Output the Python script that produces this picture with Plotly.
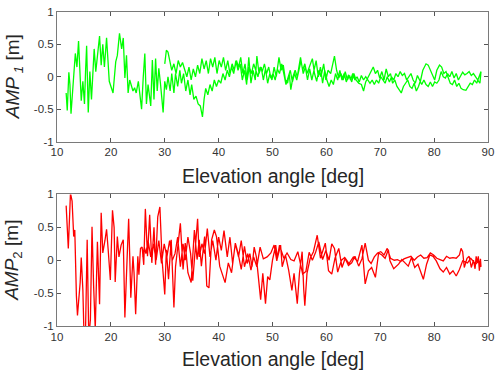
import plotly.graph_objects as go

# ---------------- data ----------------
# Top panel (AMP_1): ascending pass then descending pass (turning points)
elev_1_up = [11.7, 11.9, 12.2, 12.4, 12.6, 12.9, 13.2, 13.4, 13.7, 14.0, 14.2, 14.5, 14.8, 15.1, 15.3, 15.5,
             15.8, 16.1, 16.4, 16.9, 17.2, 17.9, 18.2, 18.5, 18.8, 19.2, 19.7, 20.4, 20.9, 21.2, 21.6, 22.0,
             22.3, 22.6, 22.9, 23.2, 23.5, 23.8, 24.1, 24.4, 24.7, 25.1, 25.7, 26.0, 26.3, 26.6, 26.9, 27.4,
             27.7, 28.0, 28.3, 28.6, 28.9, 29.2, 29.7, 30.0,
             30.3, 30.6, 31.0, 31.3, 31.7, 32.0, 32.4, 32.8, 33.1, 33.5, 33.9, 34.3, 34.7, 35.0, 35.4, 35.8,
             36.2, 36.6, 37.0, 37.3, 37.6, 38.0, 38.4, 38.8, 39.2, 39.6, 40.0, 40.4, 40.8, 41.2, 41.6, 42.0,
             42.4, 42.8, 43.2, 43.6, 44.0, 44.4, 44.8, 45.2, 45.6, 46.0, 46.4, 46.8, 47.1, 47.5, 47.9, 48.3,
             48.7, 49.1, 49.5, 49.9, 50.3, 50.7, 51.2, 51.6, 52.0, 52.4, 52.8, 53.1, 53.4, 53.8, 54.2, 54.6,
             55.2, 55.6, 56.0, 56.4, 56.8, 57.4, 57.8, 58.2, 58.6, 59.0, 59.5, 59.9, 60.3, 60.8, 61.5, 61.9,
             62.3, 62.7, 63.1, 63.5, 63.9, 64.3, 64.7, 65.1, 65.5, 66.0, 66.5, 66.9, 67.3, 67.7, 68.1, 68.7,
             69.1, 69.5, 69.9, 70.3, 70.7, 71.1, 71.5, 71.9, 72.3, 72.7, 73.1, 73.5, 73.9, 74.3, 74.7, 75.1,
             75.5, 75.9, 76.3, 76.7, 77.1, 77.5, 77.9, 78.5, 78.9, 79.3, 79.7, 80.1, 80.5, 81.0, 81.4, 81.8,
             82.2, 82.6, 83.0, 83.4, 83.8, 84.2, 84.6, 85.0, 85.4, 85.9, 86.3, 86.7, 87.1, 87.5, 87.9, 88.3,
             88.7]
amp_1_up = [-0.25, -0.52, 0.07, -0.12, -0.57, -0.22, 0.13, 0.36, 0.15, 0.55, 0.18, -0.37, -0.07, -0.42, 0.08, 0.48,
            -0.55, 0.08, -0.35, 0.43, 0.08, 0.63, 0.18, 0.50, 0.15, 0.60, -0.07, -0.25, 0.23, 0.33, 0.67, 0.43,
            0.60, -0.02, 0.33, -0.25, -0.05, -0.12, -0.22, -0.17, -0.25, -0.07, -0.50, -0.02, 0.36, -0.42, -0.12, -0.45,
            0.26, -0.35, 0.28, -0.22, 0.13, -0.10, -0.55, -0.07,
            -0.20, 0.00, -0.22, 0.05, -0.25, 0.05, -0.15, 0.10, -0.10, 0.05, -0.22, -0.05, -0.28, -0.12, -0.35, -0.30,
            -0.42, -0.45, -0.62, -0.35, -0.18, -0.28, -0.12, -0.22, -0.05, -0.15, -0.05, -0.10, 0.05, -0.05, 0.10, 0.00,
            0.15, 0.05, 0.25, 0.10, 0.20, -0.05, 0.10, -0.12, 0.30, -0.10, 0.10, -0.05, 0.32, 0.05, 0.15, -0.05,
            0.12, -0.10, 0.05, -0.05, 0.15, 0.00, 0.30, 0.10, 0.18, -0.05, -0.10, 0.05, -0.20, 0.00, 0.10, 0.00,
            0.30, 0.10, 0.20, 0.05, 0.15, 0.28, 0.05, -0.07, 0.10, 0.00, 0.20, -0.05, 0.10, 0.05, 0.32, 0.10,
            -0.02, 0.05, -0.05, 0.08, -0.05, 0.02, -0.08, 0.05, -0.05, -0.10, -0.12, -0.22, -0.08, 0.00, 0.05, 0.15,
            0.05, 0.10, -0.02, 0.08, -0.05, 0.12, 0.00, 0.05, -0.10, -0.05, -0.15, -0.20, -0.25, -0.15, -0.10, -0.05,
            -0.15, -0.18, -0.10, -0.22, -0.15, -0.05, 0.10, 0.20, 0.18, 0.10, 0.00, -0.05, 0.10, 0.18, 0.15, 0.05,
            0.08, 0.00, -0.10, -0.12, -0.05, -0.15, -0.10, -0.18, -0.20, -0.21, -0.15, -0.10, -0.12, -0.05, -0.10, -0.02,
            0.08]

elev_1_down = [88.5, 88.1, 87.7, 87.3, 86.9, 86.5, 86.1, 85.7, 85.3, 84.9, 84.5, 84.1, 83.7, 83.3, 82.9, 82.5,
               82.1, 81.7, 81.3, 80.9, 80.5, 80.1, 79.7, 79.3, 78.9, 78.5, 78.1, 77.7, 77.3, 76.9, 76.5, 76.1,
               75.7, 75.3, 74.9, 74.5, 74.1, 73.7, 73.3, 72.9, 72.5, 72.1, 71.7, 71.3, 70.9, 70.5, 70.1, 69.7,
               69.3, 68.9, 68.5, 68.1, 67.7, 67.3, 66.9, 66.5, 66.1, 65.7, 65.3, 64.9, 64.5, 64.1, 63.7, 63.3,
               62.9, 62.5, 62.1, 61.7, 61.3, 60.9, 60.5, 60.1, 59.7, 59.3, 58.9, 58.5, 58.1, 57.7, 57.3, 56.9,
               56.5, 56.1, 55.7, 55.3, 54.9, 54.5, 54.1, 53.7, 53.3, 52.9, 52.5, 52.1, 51.7, 51.3, 50.9, 50.5,
               50.1, 49.7, 49.3, 48.9, 48.5, 48.1, 47.7, 47.3, 46.9, 46.5, 46.1, 45.7, 45.3, 44.9, 44.5, 44.1,
               43.7, 43.3, 42.9, 42.5, 42.1, 41.7, 41.3, 40.9, 40.5, 40.1, 39.7, 39.3, 38.9, 38.5, 38.1, 37.7,
               37.3, 36.9, 36.5, 36.1, 35.7, 35.3, 34.9, 34.5, 34.1, 33.7, 33.3, 32.9, 32.5, 32.1, 31.7, 31.3,
               30.9, 30.6, 30.3, 30.0]
amp_1_down = [-0.10, -0.05, 0.00, 0.05, 0.02, 0.08, 0.05, 0.03, 0.07, 0.02, -0.05, 0.05, -0.02, 0.08, 0.00, 0.05,
              -0.02, 0.00, 0.08, -0.05, -0.10, -0.08, -0.15, -0.08, -0.15, -0.12, -0.05, -0.12, -0.05, 0.02, -0.10, -0.05,
              0.05, 0.00, -0.05, 0.05, 0.02, 0.08, 0.00, 0.05, -0.05, 0.00, -0.08, 0.00, -0.10, -0.05, 0.00, -0.10,
              -0.05, -0.12, -0.05, -0.10, -0.05, 0.00, -0.05, 0.02, -0.08, 0.00, -0.05, 0.05, -0.05, 0.03, -0.08, 0.05,
              -0.05, 0.10, -0.05, 0.05, -0.12, -0.05, -0.15, -0.05, 0.10, -0.10, 0.15, 0.00, 0.25, 0.10, -0.05, 0.12,
              -0.05, 0.15, 0.05, 0.25, 0.10, -0.05, 0.05, -0.08, 0.10, 0.00, -0.12, 0.05, 0.20, 0.05, 0.12, -0.05,
              0.05, -0.02, 0.15, 0.05, 0.20, 0.08, 0.15, 0.00, 0.12, 0.20, 0.05, 0.15, -0.05, 0.20, 0.05, 0.30,
              0.15, 0.25, 0.10, 0.20, 0.05, 0.25, 0.10, 0.30, 0.15, 0.25, 0.05, 0.30, 0.15, 0.28, 0.05, 0.25,
              0.12, 0.28, 0.05, 0.18, 0.00, 0.12, -0.05, 0.15, 0.00, 0.12, 0.22, 0.15, 0.25, 0.05, 0.20, 0.10,
              0.25, 0.38, 0.41, 0.20]

# Bottom panel (AMP_2)
elev_2_up = [11.7, 12.1, 12.5, 12.8, 13.1, 13.3, 13.6, 13.8, 14.0, 14.3, 14.5, 14.8, 15.0, 15.3, 15.6, 15.9,
             16.2, 16.5, 16.8, 17.1, 17.5, 17.9, 18.2, 18.5, 18.9, 19.2, 19.5, 19.9, 20.3, 20.6, 20.8, 21.2,
             21.5, 21.9, 22.3, 22.6, 23.0, 23.3, 23.5, 23.7, 24.1, 24.3, 24.6, 25.0, 25.2, 25.5, 25.8, 26.1,
             26.4, 26.8, 27.2, 27.6, 28.0, 28.3, 28.7, 29.1, 29.5, 30.0, 30.3, 30.7, 31.2, 31.7, 32.0, 32.4,
             32.9, 33.4, 33.8, 34.3, 34.9, 35.5, 36.0, 36.4, 36.8, 37.4, 37.8, 38.2, 38.7, 39.2, 39.6, 40.2,
             41.2, 41.8, 42.4, 43.1, 43.6, 44.2, 44.8, 45.3, 45.8, 46.2, 46.6, 47.0, 47.4, 47.8, 48.2, 48.7,
             49.1, 49.5, 50.0, 50.6, 50.9, 51.5, 51.8, 52.4, 53.0, 53.6, 54.0, 54.6, 55.0, 55.5, 55.8, 56.0,
             56.4, 57.0, 57.6, 58.3, 58.9, 59.8, 60.4, 61.0, 61.6, 62.3, 62.9, 63.5, 64.2, 65.0, 65.8, 66.6,
             67.2, 67.8, 68.4, 69.1, 69.7, 70.3, 70.9, 71.5, 71.8, 72.5, 73.4, 74.0, 74.6, 75.2, 75.8, 76.4,
             77.0, 78.0, 78.6, 79.2, 79.8, 80.4, 81.1, 81.7, 82.3, 82.9, 83.5, 84.1, 84.7, 85.3, 86.2, 86.8,
             87.7, 88.3, 88.7]
amp_2_up = [0.83, 0.18, 1.02, 0.90, 0.36, 0.46, -0.54, -0.84, -0.64, -0.34, 0.04, -0.45, -1.10, -1.05, 0.31, -1.20,
            -0.90, 0.51, -0.40, -1.05, 0.28, -0.67, 0.72, 0.11, 0.30, 0.47, 0.16, -0.30, 0.76, 0.50, -0.33, 0.36,
            0.05, 0.23, 0.31, -0.87, 0.00, 0.63, 0.06, -0.57, 0.06, -0.19, -0.82, 0.06, -0.22, 0.18, 0.20, -0.07,
            0.78, 0.06, 0.69, -0.04, 0.50, -0.07, 0.66, 0.81, 0.01, -0.52, 0.16, -0.29, 0.31, -0.72, -0.10, 0.20,
            0.56, -0.14, 0.26, -0.19, -0.34, 0.46, 0.01, 0.31, -0.09, 0.36, -0.39, -0.42, 0.31, 0.46, 0.36, -0.09,
            -0.34, -0.04, -0.19, 0.26, 0.11, -0.14, 0.21, -0.05, 0.10, -0.10, 0.20, 0.05, -0.30, -0.60, -0.20, -0.66,
            -0.25, -0.30, 0.00, 0.23, 0.03, 0.23, -0.10, 0.08, -0.15, -0.46, -0.20, -0.66, -0.20, 0.13, -0.45, -0.69,
            -0.20, 0.03, 0.13, 0.38, 0.03, 0.26, -0.16, -0.21, 0.03, 0.18, -0.11, 0.03, -0.05, 0.05, -0.02, 0.23,
            -0.36, -0.16, -0.11, -0.26, 0.11, 0.08, 0.03, 0.16, -0.01, -0.13, -0.06, 0.01, -0.04, -0.09, 0.04, -0.11,
            -0.06, -0.29, -0.06, 0.08, 0.06, -0.01, -0.13, -0.18, -0.11, -0.21, -0.16, -0.24, -0.14, -0.01, -0.04, 0.03,
            -0.06, -0.01, -0.10]

elev_2_down = [88.6, 88.4, 88.2, 88.0, 87.8, 87.6, 87.3, 86.9, 86.5, 86.1, 85.6, 85.3, 85.0, 84.7, 84.1, 83.5,
               82.9, 82.3, 81.7, 81.1, 80.5, 79.9, 79.3, 78.7, 78.1, 77.5, 76.9, 76.3, 75.7, 75.0, 74.4, 73.8,
               73.2, 72.6, 71.9, 71.3, 70.7, 70.1, 69.5, 68.9, 68.3, 67.8, 67.2, 66.6, 66.0, 65.3, 64.7, 64.1,
               63.4, 62.8, 62.1, 61.5, 61.0, 60.5, 59.9, 59.3, 58.6, 58.0, 57.4, 56.8, 56.2, 55.6, 54.7, 54.0,
               53.4, 52.7, 52.1, 51.3, 50.8, 50.3, 49.7, 49.0, 48.3, 47.7, 47.1, 46.5, 46.0, 45.4, 44.8, 44.2,
               43.7, 43.1, 42.6, 42.1, 41.6, 41.0, 40.5, 40.0, 39.5, 38.9, 38.4, 37.9, 37.4, 36.9, 36.4, 36.1,
               35.7, 35.2, 34.8, 34.3, 33.8, 33.4, 32.9, 32.4, 31.9, 31.4, 30.9, 30.4, 29.9, 29.4, 28.9, 28.4,
               27.9, 27.4, 26.9, 26.5, 26.2, 25.9]
amp_2_down = [0.02, -0.16, 0.06, -0.04, 0.06, -0.13, 0.00, -0.11, 0.06, 0.03, -0.11, 0.13, 0.18, 0.08, 0.03, 0.04,
              0.03, 0.06, -0.01, 0.01, 0.03, 0.08, 0.11, 0.04, 0.03, 0.08, 0.05, 0.00, 0.06, 0.04, 0.02, -0.02,
              0.01, 0.00, 0.03, 0.18, 0.08, 0.13, 0.11, 0.05, -0.05, 0.00, 0.26, 0.02, -0.09, 0.06, -0.04, -0.08,
              0.04, 0.00, -0.18, 0.18, 0.25, 0.00, 0.15, 0.01, 0.28, 0.12, 0.00, 0.12, -0.17, -0.21, 0.13, -0.01,
              0.01, 0.11, 0.03, 0.23, -0.01, 0.23, 0.11, 0.05, 0.02, 0.20, -0.10, 0.05, -0.15, 0.10, -0.10, 0.30,
              0.05, 0.25, -0.05, 0.35, 0.05, 0.45, 0.15, 0.35, 0.00, 0.30, 0.05, 0.48, 0.10, 0.25, 0.05, 0.63,
              0.15, -0.31, 0.10, 0.35, 0.00, 0.25, -0.10, 0.35, 0.10, 0.00, 0.30, 0.05, 0.25, -0.05, 0.30, 0.00,
              0.25, 0.05, 0.30, 0.10, 0.20, 0.05]

x_ticks = [10, 20, 30, 40, 50, 60, 70, 80, 90]
y_ticks = [-1, -0.5, 0, 0.5, 1]
y_tick_text = ["-1", "-0.5", "0", "0.5", "1"]

# ---------------- figure ----------------
fig = go.Figure()
fig.add_trace(go.Scatter(x=elev_1_up + elev_1_down, y=amp_1_up + amp_1_down, mode="lines",
                         line=dict(color="#00ff00", width=1.3), xaxis="x", yaxis="y", showlegend=False))
fig.add_trace(go.Scatter(x=elev_2_up + elev_2_down, y=amp_2_up + amp_2_down, mode="lines",
                         line=dict(color="#ff0000", width=1.3), xaxis="x2", yaxis="y2", showlegend=False))

axis_font = dict(family="Liberation Sans, Arial, sans-serif", size=11.5, color="#333333")
common_x = dict(range=[10, 90], tickvals=x_ticks, ticks="inside", ticklen=4, tickcolor="#555",
                showline=True, linecolor="#7a7a7a", linewidth=1, mirror="ticks", showgrid=False,
                zeroline=False, tickfont=axis_font, domain=[0, 1])
common_y = dict(range=[-1, 1], tickvals=y_ticks, ticktext=y_tick_text, ticks="inside", ticklen=4,
                tickcolor="#555", showline=True, linecolor="#7a7a7a", linewidth=1, mirror="ticks",
                showgrid=False, zeroline=False, tickfont=axis_font)

fig.update_layout(
    width=500, height=372,
    margin=dict(l=57, r=8, t=6, b=46),
    paper_bgcolor="white", plot_bgcolor="white",
    xaxis=dict(anchor="y", **common_x),
    yaxis=dict(domain=[0.5875, 1.0], anchor="x", **common_y),
    xaxis2=dict(anchor="y2", **common_x),
    yaxis2=dict(domain=[0.0, 0.419], anchor="x2", **common_y),
)

title_font = dict(family="Liberation Sans, Arial, sans-serif", size=19.5, color="#262626")
ylab_font = dict(family="Liberation Sans, Arial, sans-serif", size=19, color="#262626")
fig.add_annotation(text="Elevation angle [deg]", xref="paper", yref="paper", x=0.501, y=0.478,
                   xanchor="center", yanchor="middle", showarrow=False, font=title_font)
fig.add_annotation(text="Elevation angle [deg]", xref="paper", yref="paper", x=0.501, y=-0.106,
                   xanchor="center", yanchor="middle", showarrow=False, font=title_font)
fig.add_annotation(text="<i>AMP</i><sub><i> 1</i></sub> [m]", xref="paper", yref="paper",
                   x=-0.101, y=0.794, textangle=-90, xanchor="center", yanchor="middle",
                   showarrow=False, font=ylab_font)
fig.add_annotation(text="<i>AMP</i><sub>2</sub> [m]", xref="paper", yref="paper",
                   x=-0.101, y=0.209, textangle=-90, xanchor="center", yanchor="middle",
                   showarrow=False, font=ylab_font)

fig.write_html("out.html", config={"displayModeBar": False})

# remove the browser's default page margin so the figure sits at the window's top-left corner
with open("out.html", "r", encoding="utf-8") as f:
    html = f.read()
html = html.replace("<head>", "<head><style>html,body{margin:0;padding:0;overflow:hidden;}</style>", 1)
with open("out.html", "w", encoding="utf-8") as f:
    f.write(html)
